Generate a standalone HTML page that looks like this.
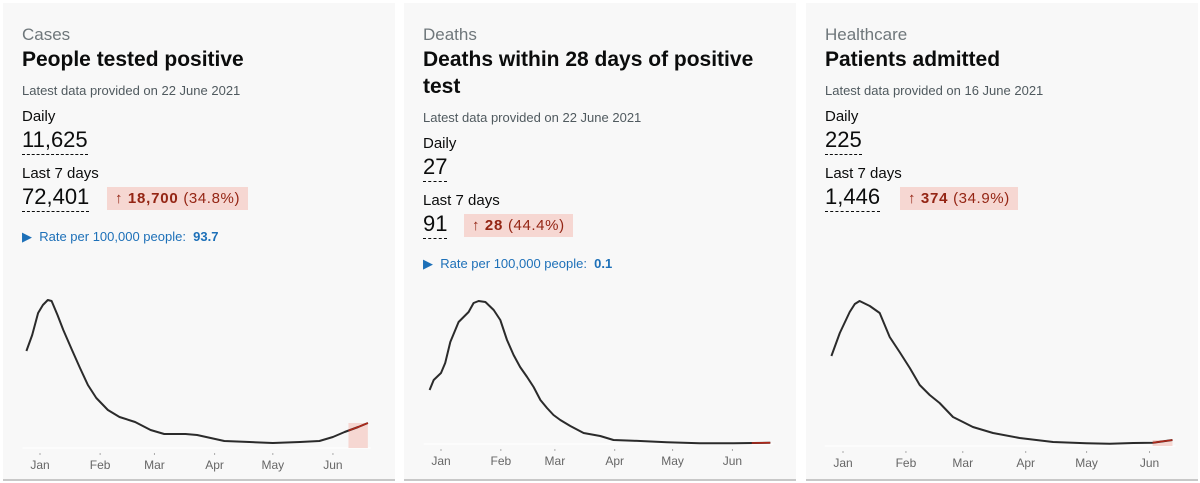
<!DOCTYPE html>
<html><head><meta charset="utf-8">
<style>
body{margin:0;width:1200px;height:483px;background:#fff;position:relative;overflow:hidden;font-family:"Liberation Sans",sans-serif;}
.card{position:absolute;top:3px;height:476px;width:392px;background:#f8f8f8;border-bottom:2px solid #c8c8c8;}
.t{position:absolute;left:19px;white-space:nowrap;}
.cat{font-size:17px;color:#6f777b;}
.title{font-size:21px;font-weight:bold;color:#0b0c0c;line-height:27px;}
.latest{font-size:13px;color:#505a5f;}
.lbl{font-size:15px;color:#0b0c0c;}
.num{font-size:22px;color:#0b0c0c;border-bottom:1px dashed #0b0c0c;padding-bottom:2px;line-height:24px;}
.badge{position:absolute;background:#f6d7d2;color:#942514;font-size:15px;height:23px;line-height:23px;padding:0 8px;white-space:nowrap;letter-spacing:0.6px;}
.badge b{letter-spacing:0.8px}
.rate{font-size:13px;color:#1d70b8;}
svg{position:absolute;left:0;top:0;}
</style></head><body>
<div class="card" style="left:3px">
 <div class="t cat" style="top:22px">Cases</div>
 <div class="t title" style="top:43px">People tested positive</div>
 <div class="t latest" style="top:80px">Latest data provided on 22 June 2021</div>
 <div class="t lbl" style="top:105px">Daily</div>
 <div class="t num" style="top:125px">11,625</div>
 <div class="t lbl" style="top:162px">Last 7 days</div>
 <div class="t num" style="top:182px">72,401</div>
 <div class="badge" style="left:104px;top:184px">↑ <b>18,700</b> (34.8%)</div>
 <div class="t rate" style="top:226px">▶&nbsp; Rate per 100,000 people:&nbsp; <b>93.7</b></div>
 <svg id="c1" width="392" height="476"></svg>
</div>
<div class="card" style="left:404px">
 <div class="t cat" style="top:22px">Deaths</div>
 <div class="t title" style="top:43px">Deaths within 28 days of positive<br>test</div>
 <div class="t latest" style="top:107px">Latest data provided on 22 June 2021</div>
 <div class="t lbl" style="top:132px">Daily</div>
 <div class="t num" style="top:152px">27</div>
 <div class="t lbl" style="top:189px">Last 7 days</div>
 <div class="t num" style="top:209px">91</div>
 <div class="badge" style="left:60px;top:211px">↑ <b>28</b> (44.4%)</div>
 <div class="t rate" style="top:253px">▶&nbsp; Rate per 100,000 people:&nbsp; <b>0.1</b></div>
 <svg id="c2" width="392" height="476"></svg>
</div>
<div class="card" style="left:806px">
 <div class="t cat" style="top:22px">Healthcare</div>
 <div class="t title" style="top:43px">Patients admitted</div>
 <div class="t latest" style="top:80px">Latest data provided on 16 June 2021</div>
 <div class="t lbl" style="top:105px">Daily</div>
 <div class="t num" style="top:125px">225</div>
 <div class="t lbl" style="top:162px">Last 7 days</div>
 <div class="t num" style="top:182px">1,446</div>
 <div class="badge" style="left:94px;top:184px">↑ <b>374</b> (34.9%)</div>
 <svg id="c3" width="392" height="476"></svg>
</div>
<script>
const monthLabels=["Jan","Feb","Mar","Apr","May","Jun"];
const monthDays=[0,31,59,90,120,151];
const casesDays=[-7,-4,-1,1.5,4,6,9,12,16.5,20.6,24.7,29,35,41,49,57,64,75,81,88,95,108,120,134,144,151,157,164,169];
const casesVals=[38800,45200,54000,57200,59200,58800,53200,47200,39200,32000,25200,20000,15200,12400,10400,7200,5600,5600,5200,4000,2800,2400,2000,2400,2800,4400,6400,8400,10000];
const deathsDays=[-5.9,-3.8,0,2.2,4.8,9.1,11.7,14.3,16.9,19.5,23,27.3,30.7,34.2,37.6,41,44.6,48,51.5,54.9,58.3,61.8,67,73.9,82.5,89.4,99.8,117,134,151.6,170.6];
const deathsVals=[486,576,639,729,918,1098,1143,1188,1269,1287,1278,1206,1116,936,801,693,603,513,396,324,261,216,162,99,72,36,30,15,6,6,12];
const admDays=[-5.7,-1.6,3.3,5.8,8.2,13.2,18.1,23,27.9,32.9,37.8,42.7,47.6,54.2,59.1,64,73.9,87,103.5,119.9,131.4,143,152.7,162.3];
const admVals=[2700,3390,4020,4260,4350,4200,3990,3270,2820,2340,1830,1530,1290,870,720,570,390,240,120,81,69,90,99,180];
const cfg=[
 {id:"c1",name:"cases",days:casesDays,vals:casesVals,yMax:59200,jan:37,k:1.94,base:445,top:297,hl:159},
 {id:"c2",name:"deaths",days:deathsDays,vals:deathsVals,yMax:1287,jan:37,k:1.93,base:441,top:298,hl:161},
 {id:"c3",name:"admissions",days:admDays,vals:admVals,yMax:4350,jan:37,k:2.03,base:443,top:298,hl:152.5}
];
const NS="http://www.w3.org/2000/svg";
cfg.forEach(c=>{
 const svg=document.getElementById(c.id);
 const x=d=>c.jan+d*c.k;
 const y=v=>c.base-(v/c.yMax)*(c.base-c.top);
 const axis=document.createElementNS(NS,"line");
 
 
 axis.setAttribute("x1",x(-9));axis.setAttribute("x2",x(c.days[c.days.length-1])+3);
 axis.setAttribute("y1",c.base);axis.setAttribute("y2",c.base);
 axis.setAttribute("stroke","#fff");axis.setAttribute("stroke-width","1");svg.appendChild(axis);
 monthLabels.forEach((m,i)=>{
  const tk=document.createElementNS(NS,"line");
  
  
  tk.setAttribute("x1",x(monthDays[i]));tk.setAttribute("x2",x(monthDays[i]));
  tk.setAttribute("y1",c.base+5);tk.setAttribute("y2",c.base+7);tk.setAttribute("stroke","#aaa");svg.appendChild(tk);
  const t=document.createElementNS(NS,"text");
  
  
  t.setAttribute("x",x(monthDays[i]));t.setAttribute("y",c.base+21);
  t.setAttribute("text-anchor","middle");t.setAttribute("font-size","12");t.setAttribute("fill","#666");
  t.setAttribute("font-family","Liberation Sans, sans-serif");t.textContent=m;svg.appendChild(t);
 });
 const last=c.days.length-1;
 const hx=x(c.hl), ex=x(c.days[last]);
 const rect=document.createElementNS(NS,"rect");
 
 
 rect.setAttribute("x",hx);rect.setAttribute("width",ex-hx);
 rect.setAttribute("y",y(c.vals[last]));rect.setAttribute("height",c.base-y(c.vals[last]));
 rect.setAttribute("fill","#f6d7d2");svg.appendChild(rect);
 const pts=c.days.map((d,i)=>x(d).toFixed(1)+","+y(c.vals[i]).toFixed(1)).join(" ");
 const pl=document.createElementNS(NS,"polyline");
 
 
 pl.setAttribute("points",pts);pl.setAttribute("fill","none");pl.setAttribute("stroke","#2b2b2b");
 pl.setAttribute("stroke-width","2");pl.setAttribute("stroke-linejoin","round");svg.appendChild(pl);
 const cp=document.createElementNS(NS,"clipPath");
 cp.setAttribute("id",c.id+"clip");
 const cr=document.createElementNS(NS,"rect");
 cr.setAttribute("x",hx);cr.setAttribute("y",0);cr.setAttribute("width",400);cr.setAttribute("height",476);
 cp.appendChild(cr);svg.appendChild(cp);
 const rl=document.createElementNS(NS,"polyline");
 
 
 rl.setAttribute("points",pts);rl.setAttribute("fill","none");rl.setAttribute("stroke","#b0281a");
 rl.setAttribute("stroke-width","1.6");rl.setAttribute("clip-path","url(#"+c.id+"clip)");svg.appendChild(rl);
});
</script>
</body></html>
